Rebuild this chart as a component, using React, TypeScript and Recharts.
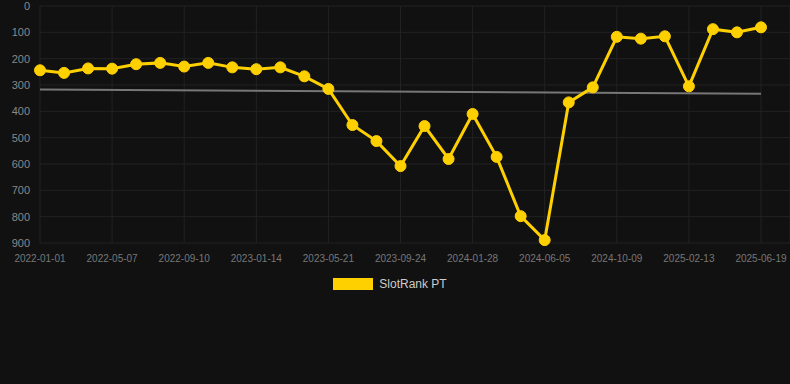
import React from "react";
import {
  LineChart,
  Line,
  XAxis,
  YAxis,
  CartesianGrid,
  Legend,
} from "recharts";

const dates = [
  "2022-01-01", "2022-02-12", "2022-03-26", "2022-05-07", "2022-06-18",
  "2022-07-30", "2022-09-10", "2022-10-22", "2022-12-03", "2023-01-14",
  "2023-02-25", "2023-04-08", "2023-05-21", "2023-07-02", "2023-08-13",
  "2023-09-24", "2023-11-05", "2023-12-17", "2024-01-28", "2024-03-10",
  "2024-04-22", "2024-06-05", "2024-07-17", "2024-08-28", "2024-10-09",
  "2024-11-20", "2025-01-01", "2025-02-13", "2025-03-27", "2025-05-08",
  "2025-06-19",
];

const rank = [
  244, 254, 237, 238, 221, 216, 230, 216, 233, 240,
  233, 267, 315, 452, 513, 608, 456, 581, 410, 573,
  798, 889, 366, 309, 117, 124, 115, 305, 88, 100,
  81,
];

// trend line: only the two ends, joined
const trend = [317, 333];

const yTicks = [0, 100, 200, 300, 400, 500, 600, 700, 800, 900];

const data = dates.map((d, i) => ({
  date: d,
  rank: rank[i],
  trend: i === 0 ? trend[0] : i === dates.length - 1 ? trend[1] : null,
}));

const YELLOW = "#FFD000";

function LegendBox() {
  return (
    <div
      style={{
        display: "flex",
        justifyContent: "center",
        alignItems: "center",
        height: 20,
        paddingRight: 10,
        fontFamily: "Arial, 'Liberation Sans', sans-serif",
        fontSize: 12,
        color: "#cccccc",
      }}
    >
      <span
        style={{
          display: "inline-block",
          width: 40,
          height: 12,
          background: YELLOW,
          marginRight: 6,
        }}
      />
      SlotRank PT
    </div>
  );
}

export default function App() {
  return (
    <div
      style={{
        position: "absolute",
        left: 0,
        top: 0,
        width: 790,
        height: 384,
        background: "#111111",
      }}
    >
      <LineChart
        width={790}
        height={384}
        data={data}
        margin={{ top: 6, right: 0, left: 0, bottom: 90 }}
      >
        <CartesianGrid stroke="#222222" strokeWidth={1} />
        <XAxis
          dataKey="date"
          interval={2}
          height={31}
          padding={{ left: 0, right: 29 }}
          axisLine={false}
          tickLine={false}
          tickSize={0}
          tickMargin={12}
          tick={{
            fill: "#777777",
            fontSize: 10,
            fontFamily: "Arial, 'Liberation Sans', sans-serif",
          }}
        />
        <YAxis
          reversed
          domain={[0, 900]}
          ticks={yTicks}
          width={40}
          axisLine={false}
          tickLine={false}
          tickSize={0}
          tickMargin={10}
          tick={{
            fill: "#888888",
            fontSize: 11,
            fontFamily: "Arial, 'Liberation Sans', sans-serif",
          }}
        />
        <Line
          dataKey="trend"
          stroke="#777777"
          strokeWidth={2}
          dot={false}
          connectNulls
          isAnimationActive={false}
          legendType="none"
        />
        <Line
          dataKey="rank"
          name="SlotRank PT"
          stroke={YELLOW}
          strokeWidth={3}
          dot={{ r: 5.5, fill: YELLOW, stroke: YELLOW, strokeWidth: 1 }}
          activeDot={false}
          isAnimationActive={false}
        />
        <Legend verticalAlign="bottom" content={<LegendBox />} />
      </LineChart>
    </div>
  );
}
